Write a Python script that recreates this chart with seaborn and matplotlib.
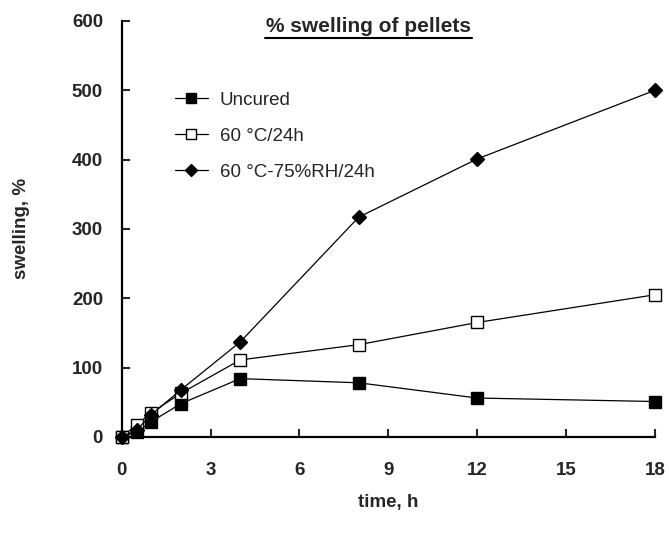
import numpy as np
import pandas as pd
import matplotlib
matplotlib.use("Agg")
import matplotlib.pyplot as plt
import seaborn as sns

time_h = [0, 0.5, 1, 2, 4, 8, 12, 18]
uncured = [0, 7, 22, 48, 84, 78, 56, 51]
cured_60 = [0, 17, 35, 63, 111, 133, 165, 205]
cured_60_rh = [0, 10, 32, 68, 137, 317, 401, 500]

series_names = ["Uncured", "60 °C/24h", "60 °C-75%RH/24h"]

df = pd.DataFrame({
    "time": time_h * 3,
    "swelling": uncured + cured_60 + cured_60_rh,
    "series": [n for n in series_names for _ in time_h],
})

sns.set_style("white")
plt.rcParams["font.family"] = ["Liberation Sans", "DejaVu Sans"]

fig = plt.figure(figsize=(6.69, 5.38), dpi=100)
ax = fig.add_axes([0.182, 0.188, 0.797, 0.773])

# marker styles: filled square, open square, filled diamond
styles = {
    "Uncured": dict(marker="s", mfc="black", ms=8.5),
    "60 °C/24h": dict(marker="s", mfc="white", ms=8.5),
    "60 °C-75%RH/24h": dict(marker="D", mfc="black", ms=7.5),
}
for name in series_names:
    sub = df[df["series"] == name]
    st = styles[name]
    sns.lineplot(data=sub, x="time", y="swelling", ax=ax, color="black",
                 linewidth=0.9, marker=st["marker"], markersize=st["ms"],
                 markerfacecolor=st["mfc"], markeredgecolor="black",
                 markeredgewidth=1, label=name, clip_on=False, zorder=3)

ax.set_xlim(0, 18)
ax.set_ylim(0, 600)
ax.set_xticks([0, 3, 6, 9, 12, 15, 18])
ax.set_yticks([0, 100, 200, 300, 400, 500, 600])
ax.tick_params(direction="in", length=5.5, width=1.5, labelsize=13.5,
               bottom=True, left=True)
ax.tick_params(axis="x", pad=18)
ax.tick_params(axis="y", pad=13.5)
for lab in ax.get_xticklabels() + ax.get_yticklabels():
    lab.set_fontweight("bold")

for side in ["top", "right"]:
    ax.spines[side].set_visible(False)
for side in ["left", "bottom"]:
    ax.spines[side].set_linewidth(1.6)
    ax.spines[side].set_color("black")

ax.set_xlabel("time, h", fontsize=13.5, fontweight="bold", labelpad=11)
ax.set_ylabel("swelling, %", fontsize=13.5, fontweight="bold", labelpad=30)

ax.text(0.4625, 0.986, "% swelling of pellets", transform=ax.transAxes,
        ha="center", va="center", fontsize=15, fontweight="bold")
ax.plot([0.268, 0.657], [0.959, 0.959], transform=ax.transAxes,
        color="black", linewidth=1.5, clip_on=False)

leg = ax.legend(loc="upper left", bbox_to_anchor=(0.099, 0.83), frameon=False,
                fontsize=13.5, handlelength=1.8, labelspacing=1.0,
                handletextpad=0.6, borderpad=0, borderaxespad=0,
                markerscale=0.85)

fig.savefig("out.png", dpi=100)
